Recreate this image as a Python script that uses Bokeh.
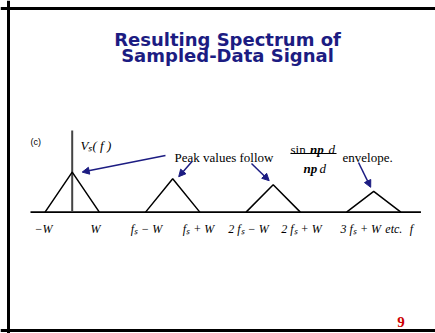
from bokeh.plotting import figure
from bokeh.models import Range1d, Arrow, NormalHead, Span
from bokeh.core.properties import value
from bokeh.embed import file_html
from bokeh.resources import INLINE

# ---- data (frequency in units of f_s, amplitude relative to baseband peak) ----
centers = [0, 1, 2, 3]
peak_heights = [1.0, 0.835, 0.685, 0.52]
half_width = 0.27          # W in units of f_s
vaxis_top = 2.04

tick_labels = ["\u2212W", "W", "f\u209b \u2212 W", "f\u209b + W", "2 f\u209b \u2212 W",
               "2 f\u209b + W", "3 f\u209b + W", "etc.", "f"]
tick_pos = [-0.285, 0.233, 0.739, 1.257, 1.754, 2.281, 2.872, 3.20, 3.376]

# ---- layout helpers (reference pixel -> data) ----
W_PX, H_PX = 435, 333
PX_F, PX_A = 100.5, 40.0
X0 = (0 - 71.7) / PX_F
Y1 = (211.6 - 0) / PX_A
def fx(px):
    return X0 + px / PX_F
def ay(py):
    return Y1 - py / PX_A

p = figure(width=W_PX, height=H_PX, output_backend="svg", toolbar_location=None,
           x_range=Range1d(X0, X0 + W_PX / PX_F), y_range=Range1d(Y1 - H_PX / PX_A, Y1),
           min_border=0, min_border_left=0, min_border_right=0,
           min_border_top=0, min_border_bottom=0)
p.xaxis.visible = False
p.yaxis.visible = False
p.grid.visible = False
p.outline_line_color = None
p.background_fill_color = "white"
p.border_fill_color = "white"

# slide frame (top, left, bottom)
p.add_layout(Span(location=ay(8), dimension="width", line_color="black", line_width=3))
p.add_layout(Span(location=fx(8), dimension="height", line_color="black", line_width=3))
p.add_layout(Span(location=ay(330), dimension="width", line_color="black", line_width=3))

NAVY = "#1c1c82"

# title
p.text(x=[fx(227), fx(227)], y=[ay(39), ay(55)],
       text=["Resulting Spectrum of", "Sampled-Data Signal"],
       text_font=value("DejaVu Sans"), text_font_style="bold", text_font_size="18px",
       text_color=NAVY, text_align="center", text_baseline="alphabetic")

# axes of the diagram
p.segment(x0=[-0.415], y0=[0], x1=[3.47], y1=[0], line_color="black", line_width=1.6)
p.segment(x0=[0], y0=[0], x1=[0], y1=[vaxis_top], line_color="#444444", line_width=2)

# spectrum replicas
xs = [[c - half_width, c, c + half_width] for c in centers]
ys = [[0, h, 0] for h in peak_heights]
p.multi_line(xs=xs, ys=ys, line_color="black", line_width=1.5)

# tick labels
p.text(x=tick_pos, y=[ay(228)] * len(tick_pos), text=tick_labels,
       text_font=value("Liberation Serif"), text_font_style="italic", text_font_size="12px",
       text_color="black", text_align="center", text_baseline="alphabetic")

# labels
p.text(x=[fx(30)], y=[ay(141)], text=["(c)"], text_font=value("Liberation Sans"),
       text_font_size="9px", text_color="black", text_baseline="alphabetic")
p.text(x=[fx(80)], y=[ay(145)], text=["V\u209b( f )"], text_font=value("Liberation Serif"),
       text_font_style="italic", text_font_size="13px", text_color="black",
       text_baseline="alphabetic")
p.text(x=[fx(174), fx(342)], y=[ay(157), ay(157)], text=["Peak values follow", "envelope."],
       text_font=value("Liberation Serif"), text_font_size="13px", text_color="black",
       text_baseline="alphabetic")
# fraction
p.text(x=[fx(290)], y=[ay(149)], text=["sin"], text_font=value("Liberation Serif"),
       text_font_size="13px", text_color="black", text_baseline="alphabetic")
p.text(x=[fx(309.5), fx(303)], y=[ay(149), ay(168)], text=["np", "np"],
       text_font=value("Liberation Serif"), text_font_style="bold italic",
       text_font_size="13px", text_color="black", text_baseline="alphabetic")
p.text(x=[fx(328), fx(319)], y=[ay(149), ay(168)], text=["d", "d"],
       text_font=value("Liberation Serif"), text_font_style="italic",
       text_font_size="13px", text_color="black", text_baseline="alphabetic")
p.segment(x0=[fx(290)], y0=[ay(153)], x1=[fx(336)], y1=[ay(153)], line_color="black", line_width=1)

# arrows to the peaks
tails_px = [(165, 155), (191.5, 161), (251, 163), (358, 162)]
tip_off_px = [(10, 0), (6, 2), (-4, 4), (-3, 4)]
for c, h, (tx, ty), (dx, dy) in zip(centers, peak_heights, tails_px, tip_off_px):
    p.add_layout(Arrow(end=NormalHead(size=7, fill_color=NAVY, line_color=NAVY, line_width=1),
                       x_start=fx(tx), y_start=ay(ty),
                       x_end=c + dx / PX_F, y_end=h + dy / PX_A,
                       line_color=NAVY, line_width=1.5))

# page number
p.text(x=[fx(400.5)], y=[ay(321)], text=["9"], text_font=value("Liberation Serif"),
       text_font_style="bold", text_font_size="15px", text_color="#cc0000",
       text_align="center", text_baseline="alphabetic")

open("out.html", "w").write(file_html(p, INLINE))
